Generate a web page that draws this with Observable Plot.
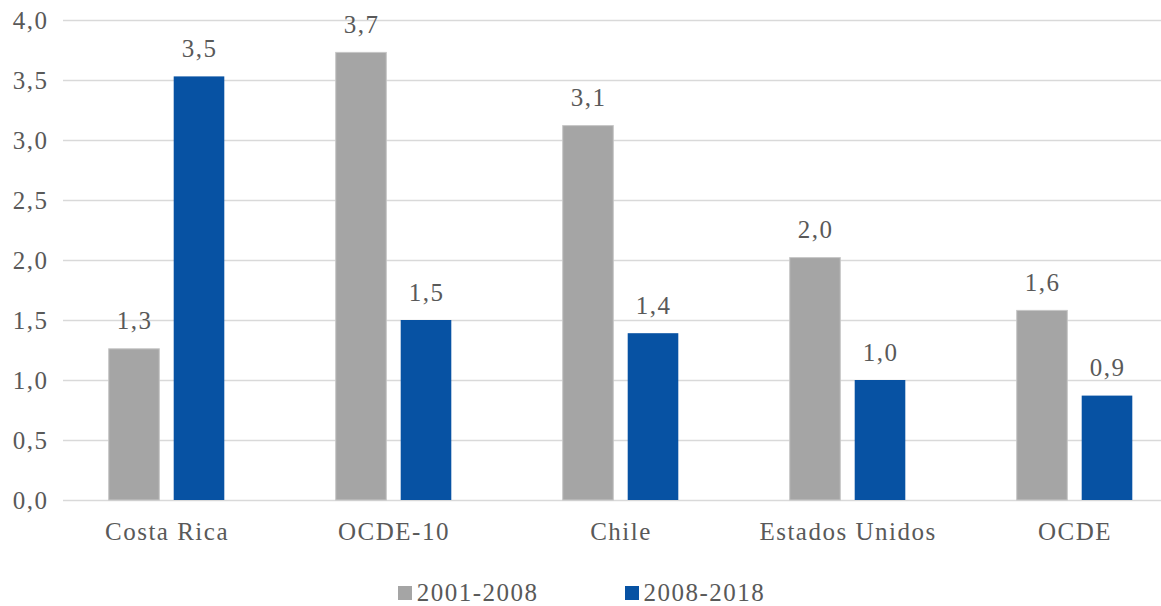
<!DOCTYPE html>
<html>
<head>
<meta charset="utf-8">
<script src="https://cdn.jsdelivr.net/npm/d3@7"></script>
<script src="https://cdn.jsdelivr.net/npm/@observablehq/plot@0.6"></script>
<style>
  html, body { margin: 0; padding: 0; background: #fff; }
  body { width: 1161px; height: 606px; overflow: hidden; font-family: 'Liberation Serif', serif; }
  svg, svg text { font-family: 'Liberation Serif', serif !important; }
  #chart { height: 570px; }
  #legend { display: flex; justify-content: center; align-items: center; height: 26px; line-height: 26px; margin-top: 10px; margin-left: 2px; color: #595959; font-size: 25px; letter-spacing: 1.5px; font-family: 'Liberation Serif', serif; }
  .item { display: flex; align-items: center; height: 26px; }
  .item + .item { margin-left: 86px; }
  .sw { width: 14px; height: 14px; margin-right: 5px; }
</style>
</head>
<body>
<div id="chart"></div>
<div id="legend"></div>
<script>
const categories = ["Costa Rica", "OCDE-10", "Chile", "Estados Unidos", "OCDE"];
const series = ["2001-2008", "2008-2018"];
const values2001_2008 = [1.26, 3.73, 3.12, 2.02, 1.58];
const values2008_2018 = [3.53, 1.50, 1.39, 1.00, 0.87];
const yTicks = [0, 0.5, 1, 1.5, 2, 2.5, 3, 3.5, 4];
const colors = ["#a5a5a5", "#0752a3"];

const fmt = d => d.toFixed(1).replace(".", ",");
const dataA = categories.map((c, i) => ({category: c, series: series[0], value: values2001_2008[i]}));
const dataB = categories.map((c, i) => ({category: c, series: series[1], value: values2008_2018[i]}));

const FF = "'Liberation Serif', serif";
const font = {fontFamily: FF, fontSize: 25, fill: "#595959"};

const chart = Plot.plot({
  width: 1161,
  height: 570,
  marginLeft: 63,
  marginRight: 0,
  marginTop: 20,
  marginBottom: 70,
  style: {fontFamily: FF, fontSize: "25px", color: "#595959", letterSpacing: "1.5px", background: "#fff", display: "block"},
  x: {domain: categories, range: [51.3, 1188.7], padding: 0},
  y: {domain: [0, 4], ticks: yTicks},
  color: {domain: series, range: colors},
  marks: [
    Plot.gridY(yTicks, {stroke: "#d9d9d9", strokeOpacity: 1, strokeWidth: 1.3}),
    Plot.axisY(yTicks, {tickSize: 0, tickPadding: 15, tickFormat: fmt, ...font, label: null}),
    Plot.axisX({tickSize: 0, tickPadding: 22, ...font, label: null}),
    Plot.barY(dataA, {x: "category", y: "value", fill: "series", stroke: "#c6c6c6", strokeWidth: 1, insetLeft: 55.7, insetRight: 120.7}),
    Plot.barY(dataB, {x: "category", y: "value", fill: "series", insetLeft: 120.7, insetRight: 55.7}),
    Plot.text(dataA, {x: "category", y: "value", text: d => fmt(d.value), dx: -32.5, dy: -28, ...font}),
    Plot.text(dataB, {x: "category", y: "value", text: d => fmt(d.value), dx: 32.5, dy: -28, ...font})
  ]
});
document.getElementById("chart").appendChild(chart);

const legend = document.getElementById("legend");
series.forEach((s, i) => {
  const item = document.createElement("div");
  item.className = "item";
  const sw = document.createElement("div");
  sw.className = "sw";
  sw.style.background = colors[i];
  const label = document.createElement("span");
  label.textContent = s;
  item.appendChild(sw);
  item.appendChild(label);
  legend.appendChild(item);
});
</script>
</body>
</html>
